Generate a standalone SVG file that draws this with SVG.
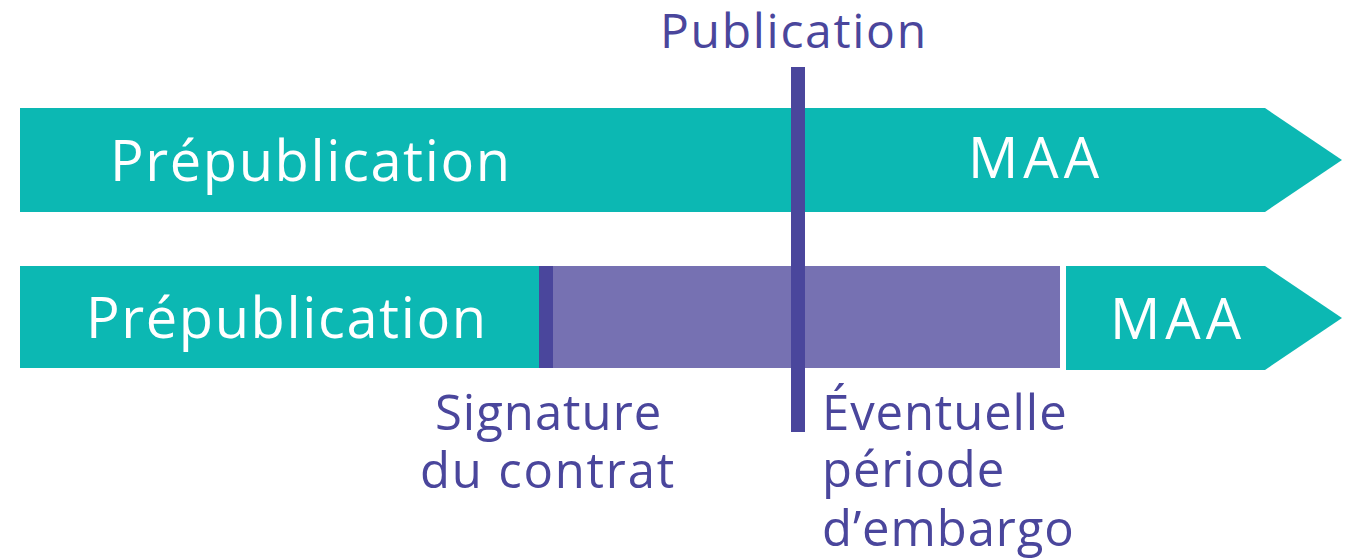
<svg xmlns="http://www.w3.org/2000/svg" width="1345" height="559" viewBox="0 0 1345 559">
<style>
.teal{fill:#0cb8b3}
.lav{fill:#7671b2}
.dk{fill:#4a469c}
.w{font-family:"Open Sans","Noto Sans",sans-serif;fill:#ffffff}
.p{font-family:"Open Sans","Noto Sans",sans-serif;fill:#4a469c}
</style>
<rect width="1345" height="559" fill="#ffffff"/>
<g id="row1">
<polygon class="teal" points="20,108 1265,108 1342,160 1265,212 20,212"/>
<text class="w" x="110" y="181" font-size="56" letter-spacing="1.6">Prépublication</text>
<text class="w" x="968" y="178" font-size="56" letter-spacing="5">MAA</text>
</g>
<g id="row2">
<rect class="teal" x="20" y="266" width="519" height="102"/>
<rect class="dk" x="539" y="266" width="14" height="102"/>
<rect class="lav" x="553" y="266" width="507" height="102"/>
<polygon class="teal" points="1066,266 1265,266 1342,318 1265,370 1066,370"/>
<text class="w" x="86" y="338" font-size="56" letter-spacing="1.6">Prépublication</text>
<text class="w" x="1110" y="339" font-size="56" letter-spacing="5">MAA</text>
</g>
<g id="connectors">
<rect class="dk" x="791" y="67" width="14" height="365"/>
</g>
<g id="publication">
<text class="p" x="660" y="48" font-size="48" letter-spacing="1.7">Publication</text>
</g>
<g id="signature">
<text class="p" x="435" y="430" font-size="49" letter-spacing="1">Signature</text>
<text class="p" x="420" y="488" font-size="49" letter-spacing="1.8">du contrat</text>
</g>
<g id="embargo">
<text class="p" x="822" y="430" font-size="49" letter-spacing="0.9">Éventuelle</text>
<text class="p" x="822" y="487" font-size="49" letter-spacing="0.9">période</text>
<text class="p" x="822" y="546" font-size="49" letter-spacing="0.9">d’embargo</text>
</g>
</svg>
